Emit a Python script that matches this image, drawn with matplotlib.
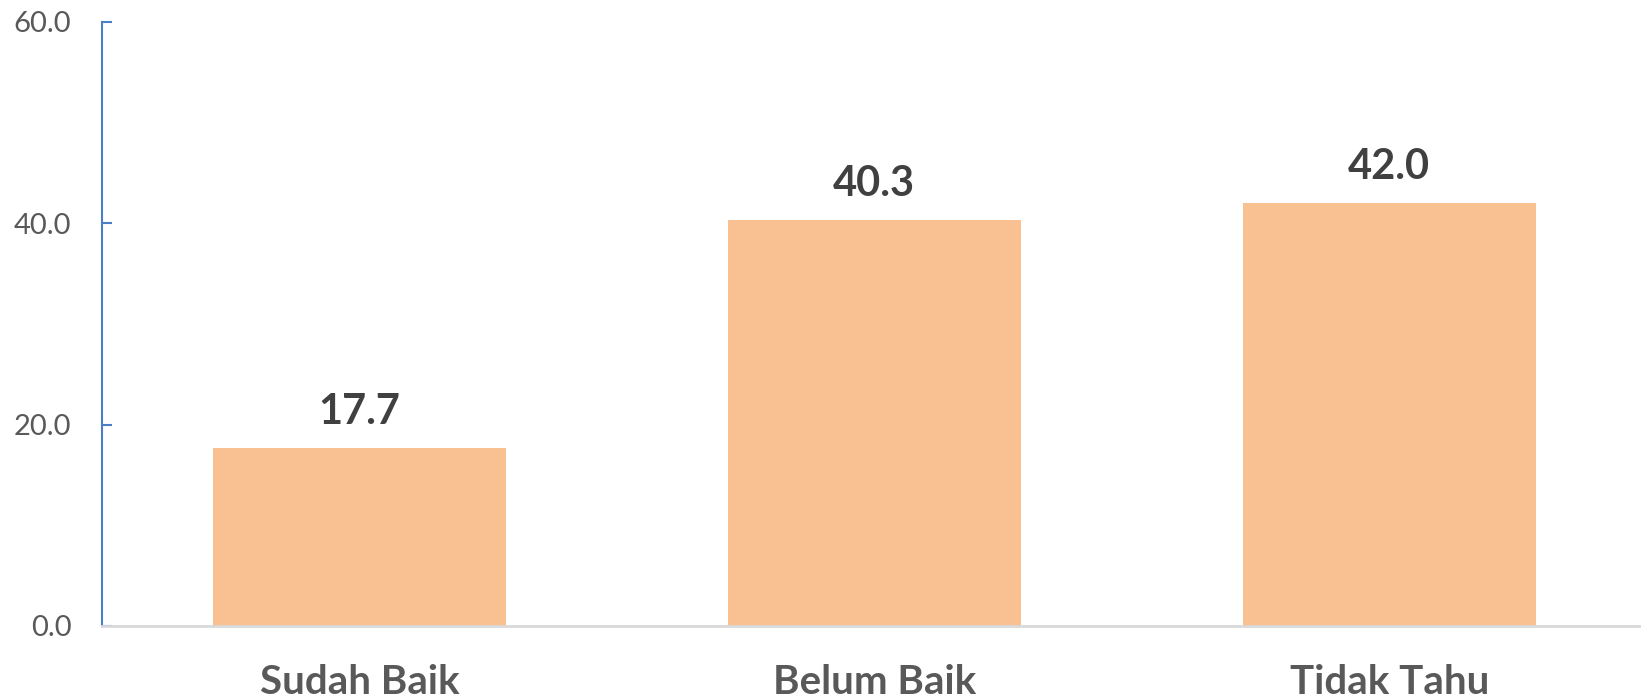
import matplotlib
matplotlib.use("Agg")
import matplotlib.pyplot as plt

categories = ["Sudah Baik", "Belum Baik", "Tidak Tahu"]
values = [17.7, 40.3, 42.0]
yticks = [0, 20, 40, 60]

plt.rcParams['font.family'] = ['Lato', 'DejaVu Sans']

W, H, DPI = 1641, 698, 100
fig = plt.figure(figsize=(W / DPI, H / DPI), dpi=DPI)
# axes placed in pixel units
left, right, bottom, top = 102, 1641, 698 - 626, 698 - 22
ax = fig.add_axes([left / W, bottom / H, (right - left) / W, (top - bottom) / H])

x = range(len(categories))
bars = ax.bar(x, values, width=0.569, color="#F9C192", zorder=2)

ax.set_xlim(-0.5, 2.489)
ax.set_ylim(0, 60)
ax.set_yticks(yticks)
ax.set_yticklabels([f"{v:.1f}" for v in yticks], fontsize=21, color="#595959")
ax.tick_params(axis="y", direction="in", length=7, width=1.5, color="#4A7EC7", pad=22)
ax.set_xticks(list(x))
ax.set_xticklabels(categories, fontsize=29, fontweight="bold", color="#595959")
ax.tick_params(axis="x", length=0, pad=27)

for s in ["top", "right"]:
    ax.spines[s].set_visible(False)
ax.spines["left"].set_color("#4A7EC7")
ax.spines["left"].set_linewidth(1.5)
ax.spines["bottom"].set_color("#D9D9D9")
ax.spines["bottom"].set_linewidth(2)
ax.spines["bottom"].set_zorder(3)

for b, v in zip(bars, values):
    ax.annotate(f"{v:.1f}", (b.get_x() + b.get_width() / 2, v),
                xytext=(0, 26), textcoords="offset points",
                ha="center", va="center", fontsize=30, fontweight="bold",
                color="#404040")

fig.savefig("out.png", dpi=DPI)
